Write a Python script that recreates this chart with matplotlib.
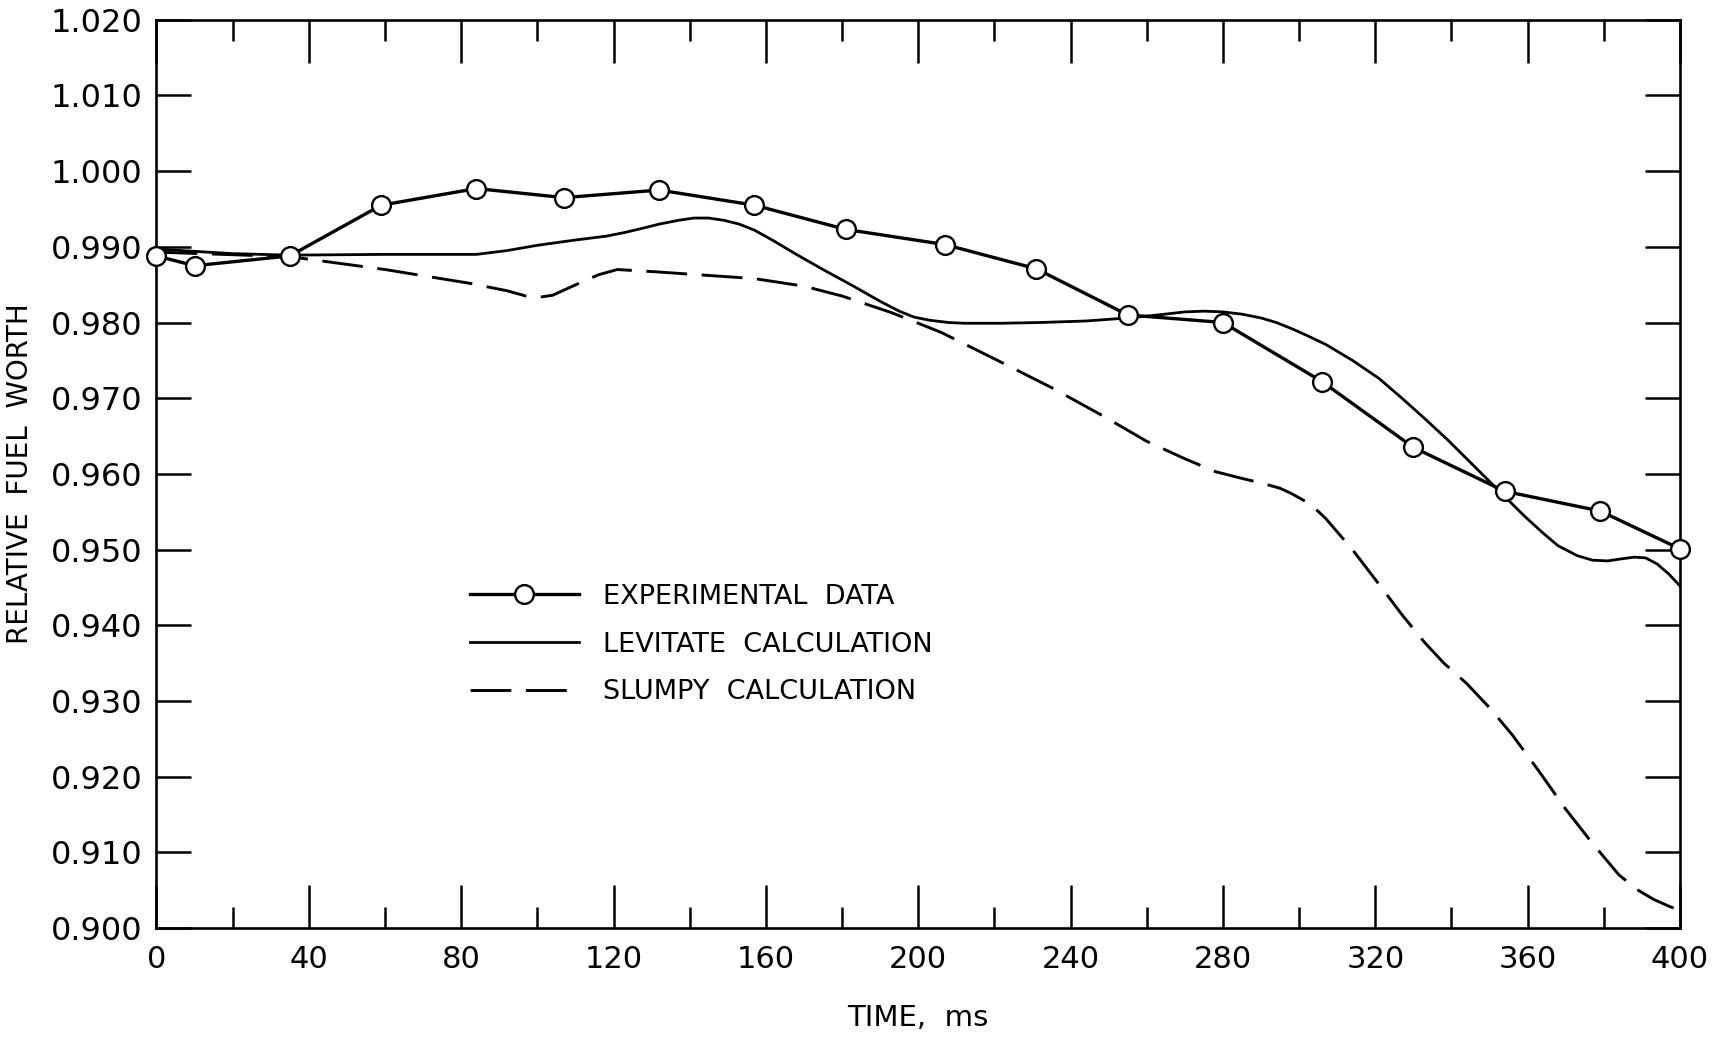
#!/usr/bin/python3
#
# relative fuel worth vs time
#
import matplotlib.pyplot as plt
from matplotlib.ticker import MultipleLocator, FormatStrFormatter

#
# data
#
exp_time = [0, 10, 35, 59, 84, 107, 132, 157, 181, 207, 231, 255, 280, 306, 330, 354, 379, 400]
exp_worth = [0.9888, 0.9875, 0.9888, 0.9955, 0.9977, 0.9965, 0.9975, 0.9955, 0.9923, 0.9903,
             0.9871, 0.9810, 0.9800, 0.9722, 0.9635, 0.9577, 0.9551, 0.9501]

lev_time = [0, 20, 35, 60, 84, 92, 100, 110, 118, 123, 128, 132, 137, 141, 145, 149, 153, 157,
            162, 168, 175, 183, 190, 195, 199, 203, 208, 212, 222, 232, 244, 255, 263, 270, 275,
            280, 285, 290, 294, 298, 302, 307, 314, 321, 327, 333, 339, 344, 349, 354, 359, 364,
            368, 373, 377, 381, 385, 388, 391, 394, 397, 400]
lev_worth = [0.9897, 0.9891, 0.9889, 0.9890, 0.9890, 0.9895, 0.9902, 0.9909, 0.9914, 0.9919,
             0.9925, 0.9930, 0.9935, 0.9938, 0.9938, 0.9935, 0.9930, 0.9922, 0.9908, 0.9890,
             0.9870, 0.9848, 0.9828, 0.9815, 0.9807, 0.9803, 0.9800, 0.9799, 0.9799, 0.9800,
             0.9802, 0.9806, 0.9810, 0.9814, 0.9815, 0.9814, 0.9811, 0.9806, 0.9800, 0.9792,
             0.9783, 0.9771, 0.9750, 0.9726, 0.9700, 0.9673, 0.9645, 0.9620, 0.9595, 0.9570,
             0.9545, 0.9522, 0.9505, 0.9492, 0.9486, 0.9485, 0.9488, 0.9490, 0.9489, 0.9481,
             0.9468, 0.9452]

slump_time = [0, 35, 60, 82, 92, 97, 100, 104, 111, 116, 121, 131, 157, 170, 180, 193, 206, 220,
              235, 248, 260, 270, 278, 285, 290, 295, 298, 303, 307, 314, 321, 327, 333, 338,
              344, 350, 356, 363, 370, 377, 384, 389, 393, 397, 400]
slump_worth = [0.9893, 0.9887, 0.9870, 0.9852, 0.9842, 0.9835, 0.9833, 0.9836, 0.9852, 0.9863,
               0.9870, 0.9867, 0.9858, 0.9848, 0.9835, 0.9813, 0.9787, 0.9752, 0.9714, 0.9678,
               0.9643, 0.9620, 0.9603, 0.9594, 0.9588, 0.9581, 0.9574, 0.9560, 0.9541, 0.9500,
               0.9454, 0.9414, 0.9377, 0.9350, 0.9323, 0.9291, 0.9255, 0.9207, 0.9157, 0.9112,
               0.9070, 0.9050, 0.9038, 0.9029, 0.9023]

labels = ['EXPERIMENTAL  DATA', 'LEVITATE  CALCULATION', 'SLUMPY  CALCULATION']

#
# figure
#
fig = plt.figure(figsize=(17.16, 10.4), dpi=100)
ax = fig.add_axes([0.0912, 0.1077, 0.8878, 0.8733])

ax.plot(exp_time, exp_worth, color='black', lw=2.4, marker='o', ms=13.5,
        mfc='white', mec='black', mew=1.7, clip_on=False, zorder=4, label=labels[0])
ax.plot(lev_time, lev_worth, color='black', lw=2.0, label=labels[1], zorder=3)
ax.plot(slump_time, slump_worth, color='black', lw=2.1, dashes=(14, 5), label=labels[2], zorder=3)

#
# axes, ticks
#
ax.set_xlim(0, 400)
ax.set_ylim(0.900, 1.020)
ax.xaxis.set_major_locator(MultipleLocator(40))
ax.xaxis.set_minor_locator(MultipleLocator(20))
ax.yaxis.set_major_locator(MultipleLocator(0.010))
ax.yaxis.set_major_formatter(FormatStrFormatter('%.3f'))

ax.tick_params(axis='x', which='major', direction='in', length=31, width=1.8,
               top=True, labelsize=22, pad=12)
ax.tick_params(axis='x', which='minor', direction='in', length=15, width=1.8, top=True)
ax.tick_params(axis='y', which='major', direction='in', length=25, width=1.8,
               right=True, labelsize=23, pad=10)
for s in ax.spines.values():
    s.set_linewidth(1.9)

ax.set_xlabel('TIME,  ms', fontsize=21, labelpad=22)
ax.set_ylabel('RELATIVE  FUEL  WORTH', fontsize=20, labelpad=12)

#
# legend
#
ax.legend(loc='center left', bbox_to_anchor=(0.206, 0.312), frameon=False, fontsize=19.5,
          handlelength=4.0, handletextpad=0.9, labelspacing=0.8, borderpad=0, borderaxespad=0)

plt.savefig("out.png", dpi=100)
